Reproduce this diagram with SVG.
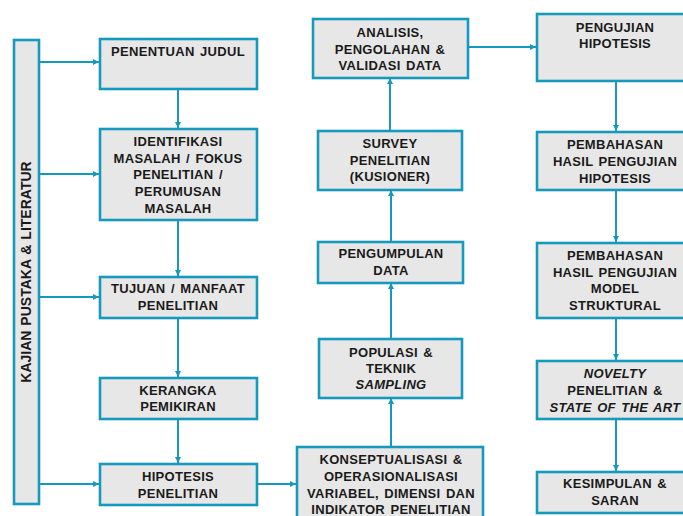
<svg xmlns="http://www.w3.org/2000/svg" width="683" height="516" viewBox="0 0 683 516">
<defs>
<style>
.b{fill:#e7e7e7;stroke:#1798bd;stroke-width:2.6}
.t{font-family:"Liberation Sans",Arial,sans-serif;font-weight:bold;font-size:13px;fill:#1a1a1a;text-anchor:middle;letter-spacing:0.3px;word-spacing:1.5px}
.i{font-style:italic}
.c{fill:none;stroke:#1798bd;stroke-width:2}
</style>
<marker id="a" markerWidth="8" markerHeight="8" refX="6" refY="3" orient="auto" markerUnits="userSpaceOnUse">
<path d="M0,0 L6,3 L0,6 Z" fill="#1798bd"/>
</marker>
</defs>
<rect width="683" height="516" fill="#ffffff"/>
<g id="connectors">
<path class="c" d="M39,62 H99" marker-end="url(#a)"/>
<path class="c" d="M39,174 H99" marker-end="url(#a)"/>
<path class="c" d="M39,297 H99" marker-end="url(#a)"/>
<path class="c" d="M39,484 H99" marker-end="url(#a)"/>
<path class="c" d="M178,89 V128" marker-end="url(#a)"/>
<path class="c" d="M178,220 V276" marker-end="url(#a)"/>
<path class="c" d="M178,318 V377" marker-end="url(#a)"/>
<path class="c" d="M178,419 V463" marker-end="url(#a)"/>
<path class="c" d="M257,484 H296" marker-end="url(#a)"/>
<path class="c" d="M391,447 V398" marker-end="url(#a)"/>
<path class="c" d="M391,339 V283" marker-end="url(#a)"/>
<path class="c" d="M391,242 V190" marker-end="url(#a)"/>
<path class="c" d="M390,131 V78" marker-end="url(#a)"/>
<path class="c" d="M468,47 H536" marker-end="url(#a)"/>
<path class="c" d="M616,81 V131" marker-end="url(#a)"/>
<path class="c" d="M616,190 V242" marker-end="url(#a)"/>
<path class="c" d="M616,318 V360" marker-end="url(#a)"/>
<path class="c" d="M616,419 V471" marker-end="url(#a)"/>
</g>
<g id="kajian">
<rect class="b" x="14" y="40" width="25" height="464"/>
<text class="t" style="font-size:14px;letter-spacing:0;word-spacing:1px" transform="translate(31,272) rotate(-90)">KAJIAN PUSTAKA &amp; LITERATUR</text>
</g>
<g id="penentuan">
<rect class="b" x="100" y="39" width="157" height="50"/>
<text class="t" x="178" y="56">PENENTUAN JUDUL</text>
</g>
<g id="identifikasi">
<rect class="b" x="100" y="129" width="157" height="91"/>
<text class="t" x="178" y="146">IDENTIFIKASI</text>
<text class="t" x="178" y="163">MASALAH / FOKUS</text>
<text class="t" x="178" y="179">PENELITIAN /</text>
<text class="t" x="178" y="196">PERUMUSAN</text>
<text class="t" x="178" y="213">MASALAH</text>
</g>
<g id="tujuan">
<rect class="b" x="100" y="277" width="157" height="41"/>
<text class="t" x="178" y="293">TUJUAN / MANFAAT</text>
<text class="t" x="178" y="310">PENELITIAN</text>
</g>
<g id="kerangka">
<rect class="b" x="100" y="378" width="157" height="41"/>
<text class="t" x="178" y="395">KERANGKA</text>
<text class="t" x="178" y="411">PEMIKIRAN</text>
</g>
<g id="hipotesis">
<rect class="b" x="100" y="464" width="157" height="41"/>
<text class="t" x="178" y="481">HIPOTESIS</text>
<text class="t" x="178" y="498">PENELITIAN</text>
</g>
<g id="konseptualisasi">
<rect class="b" x="297" y="447" width="186" height="72"/>
<text class="t" x="391" y="464">KONSEPTUALISASI &amp;</text>
<text class="t" x="391" y="481">OPERASIONALISASI</text>
<text class="t" x="391" y="498">VARIABEL, DIMENSI DAN</text>
<text class="t" x="391" y="514">INDIKATOR PENELITIAN</text>
</g>
<g id="populasi">
<rect class="b" x="319" y="339" width="143" height="59"/>
<text class="t" x="391" y="357">POPULASI &amp;</text>
<text class="t" x="391" y="373">TEKNIK</text>
<text class="t i" x="391" y="389">SAMPLING</text>
</g>
<g id="pengumpulan">
<rect class="b" x="318" y="242" width="145" height="41"/>
<text class="t" x="391" y="258">PENGUMPULAN</text>
<text class="t" x="391" y="275">DATA</text>
</g>
<g id="survey">
<rect class="b" x="318" y="131" width="144" height="59"/>
<text class="t" x="390" y="148">SURVEY</text>
<text class="t" x="390" y="165">PENELITIAN</text>
<text class="t" x="390" y="181">(KUSIONER)</text>
</g>
<g id="analisis">
<rect class="b" x="313" y="19" width="155" height="59"/>
<text class="t" x="390" y="37">ANALISIS,</text>
<text class="t" x="390" y="54">PENGOLAHAN &amp;</text>
<text class="t" x="390" y="70">VALIDASI DATA</text>
</g>
<g id="pengujian">
<rect class="b" x="537" y="14" width="157" height="67"/>
<text class="t" x="615" y="32">PENGUJIAN</text>
<text class="t" x="615" y="48">HIPOTESIS</text>
</g>
<g id="pembahasan1">
<rect class="b" x="537" y="132" width="157" height="58"/>
<text class="t" x="615" y="149">PEMBAHASAN</text>
<text class="t" x="615" y="166">HASIL PENGUJIAN</text>
<text class="t" x="615" y="183">HIPOTESIS</text>
</g>
<g id="pembahasan2">
<rect class="b" x="537" y="243" width="157" height="75"/>
<text class="t" x="615" y="260">PEMBAHASAN</text>
<text class="t" x="615" y="277">HASIL PENGUJIAN</text>
<text class="t" x="615" y="293">MODEL</text>
<text class="t" x="615" y="310">STRUKTURAL</text>
</g>
<g id="novelty">
<rect class="b" x="537" y="361" width="157" height="58"/>
<text class="t i" x="615" y="378">NOVELTY</text>
<text class="t" x="615" y="395">PENELITIAN &amp;</text>
<text class="t i" x="615" y="412">STATE OF THE ART</text>
</g>
<g id="kesimpulan">
<rect class="b" x="537" y="472" width="157" height="41"/>
<text class="t" x="615" y="488">KESIMPULAN &amp;</text>
<text class="t" x="615" y="505">SARAN</text>
</g>
</svg>
